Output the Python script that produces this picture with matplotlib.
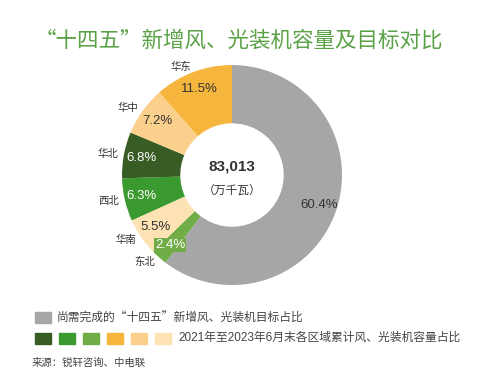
import matplotlib.pyplot as plt
import numpy as np

plt.rcParams['font.family'] = ['Noto Sans CJK SC', 'DejaVu Sans']
NUM_FONT = ['Liberation Sans', 'Noto Sans CJK SC']

# data, clockwise from 12 o'clock
regions = ['尚需完成', '东北', '华南', '西北', '华北', '华中', '华东']
shares = [60.4, 2.4, 5.5, 6.3, 6.8, 7.2, 11.5]
colors = ['#a6a6a6', '#70ad47', '#fde3b4', '#3b9a2f', '#385d24', '#fbd08c', '#f6b53d']
pct_colors = ['#333333', 'white', '#333333', 'white', 'white', '#333333', '#333333']
total = '83,013'

legend_colors = ['#385d24', '#3b9a2f', '#70ad47', '#f6b53d', '#fbd08c', '#fde3b4']


def make_chart():
    fig = plt.figure(figsize=(5, 3.83), dpi=100)

    fig.text(0.478, 0.895, '“十四五”新增风、光装机容量及目标对比', ha='center', va='center',
             fontsize=15.5, color='#5ba247', fontweight='light')

    ax = fig.add_axes([0.134, 0.112, 0.66, 0.862])
    wedges, _ = ax.pie(shares, colors=colors, startangle=90, counterclock=False,
                       radius=1, wedgeprops=dict(width=0.53, linewidth=0))
    ax.set_xlim(-1.5, 1.5)
    ax.set_ylim(-1.5, 1.5)
    ax.set_aspect('equal')
    ax.axis('off')

    for i, w in enumerate(wedges):
        mid = np.deg2rad((w.theta1 + w.theta2) / 2)
        c, s = np.cos(mid), np.sin(mid)
        txt = f'{shares[i]}%'
        if i == 1:
            ax.text(0.85 * c, 0.85 * s, txt, ha='center', va='center', fontsize=9.5,
                    family=NUM_FONT, color='white',
                    bbox=dict(boxstyle='square,pad=0.1', fc=colors[i], ec='none'))
        else:
            ax.text(0.84 * c, 0.84 * s, txt, ha='center', va='center', fontsize=9.5,
                    family=NUM_FONT, color=pct_colors[i])
        if i > 0:
            ax.text(1.05 * c, 1.05 * s, regions[i], ha='right', va='center', fontsize=7.5,
                    color='#333333')

    ax.text(0, 0.08, total, ha='center', va='center', fontsize=11, fontweight='bold',
            family=NUM_FONT, color='#333333')
    ax.text(0, -0.14, '（万千瓦）', ha='center', va='center', fontsize=8.5, color='#333333')

    # legend
    sq_w, sq_h = 16 / 500, 11 / 383
    fig.patches.append(plt.Rectangle((35 / 500, 1 - 323 / 383), sq_w, sq_h, color=colors[0],
                                     transform=fig.transFigure, figure=fig))
    fig.text(57 / 500, 1 - 318 / 383, '尚需完成的“十四五”新增风、光装机目标占比', va='center',
             fontsize=8.5, color='#444444')
    for k, col in enumerate(legend_colors):
        fig.patches.append(plt.Rectangle(((35 + 24 * k) / 500, 1 - 344 / 383), sq_w, sq_h, color=col,
                                         transform=fig.transFigure, figure=fig))
    fig.text(178 / 500, 1 - 338 / 383, '2021年至2023年6月末各区域累计风、光装机容量占比', va='center',
             fontsize=8.5, family=NUM_FONT, color='#444444')

    fig.text(32 / 500, 1 - 363 / 383, '来源：锐轩咨询、中电联', va='center', fontsize=7.5, color='#444444')
    return fig


fig = make_chart()
plt.savefig('out.png', dpi=100)
